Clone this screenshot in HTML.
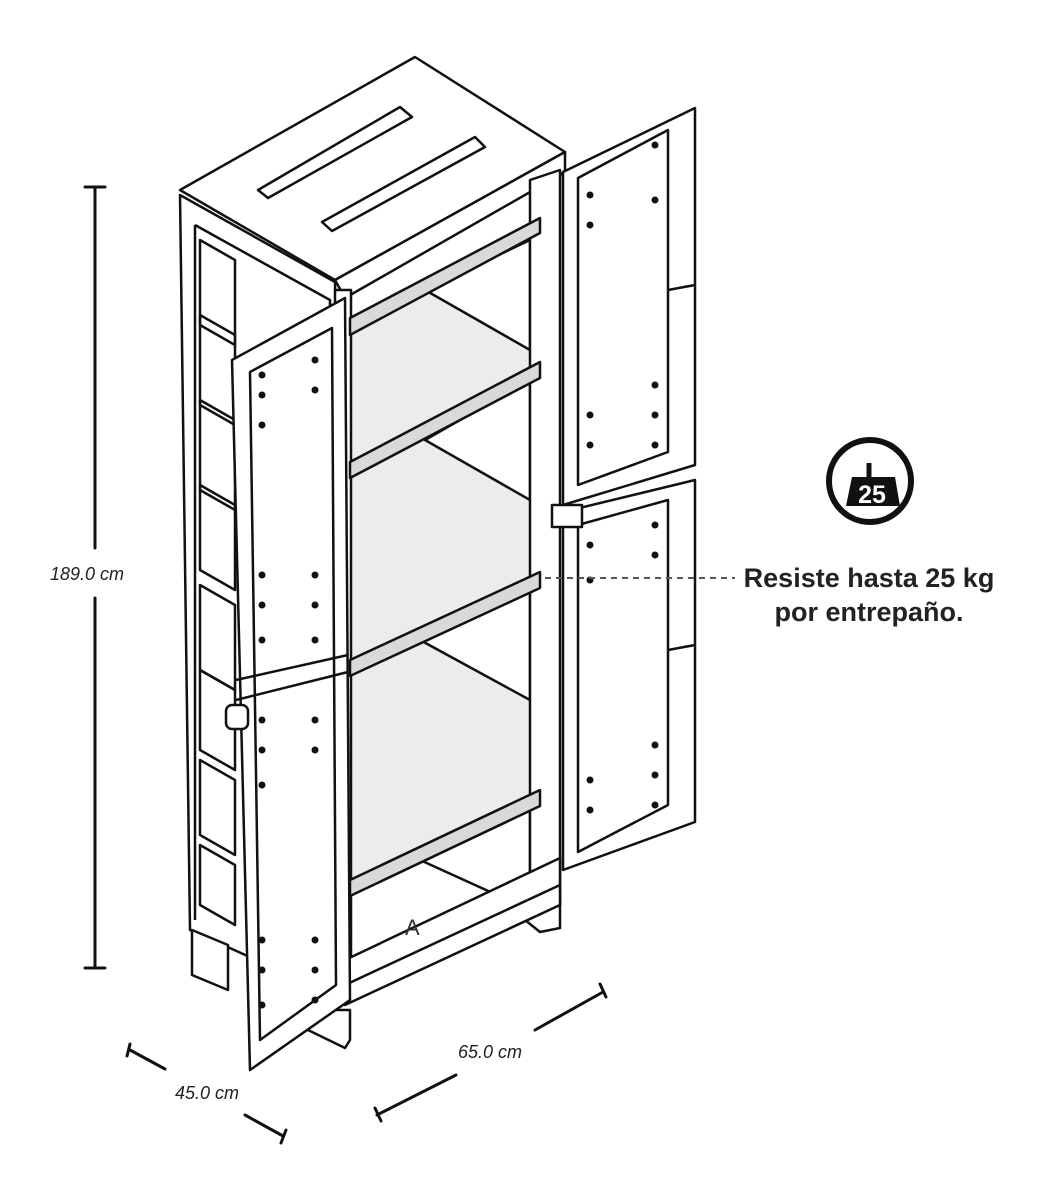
<!DOCTYPE html>
<html><head><meta charset="utf-8"><style>
html,body{margin:0;padding:0;background:#fff}
svg{display:block}
text{font-family:"Liberation Sans",sans-serif}
</style></head><body>
<svg width="1046" height="1200" viewBox="0 0 1046 1200" xmlns="http://www.w3.org/2000/svg">
<g stroke="#111" stroke-width="3" fill="none" stroke-linecap="round">
<line x1="95" y1="187" x2="95" y2="548"/>
<line x1="95" y1="598" x2="95" y2="968"/>
<line x1="85" y1="187" x2="105" y2="187"/>
<line x1="85" y1="968" x2="105" y2="968"/>
<line x1="130" y1="1050" x2="165" y2="1069"/>
<line x1="130" y1="1044" x2="127" y2="1056"/>
<line x1="245" y1="1115" x2="283" y2="1136"/>
<line x1="286" y1="1130" x2="281" y2="1143"/>
<line x1="377" y1="1115" x2="456" y2="1075"/>
<line x1="375" y1="1108" x2="381" y2="1121"/>
<line x1="535" y1="1030" x2="603" y2="992"/>
<line x1="600" y1="984" x2="606" y2="997"/>
</g>
<text x="87" y="580" font-size="18" font-style="italic" text-anchor="middle" fill="#222">189.0 cm</text>
<text x="207" y="1099" font-size="18" font-style="italic" text-anchor="middle" fill="#222">45.0 cm</text>
<text x="490" y="1058" font-size="18" font-style="italic" text-anchor="middle" fill="#222">65.0 cm</text>

<g stroke="#111" stroke-width="2.5" fill="#fff" stroke-linejoin="round">
<polygon points="350,335 540,235 540,362 350,462" fill="#ececec" stroke="none"/>
<polygon points="350,478 540,378 540,572 350,660" fill="#ececec" stroke="none"/>
<polygon points="350,676 540,588 540,790 350,880" fill="#ececec" stroke="none"/>
<polygon points="425,290 530,240 530,350" fill="#fff" stroke="#111"/>
<polygon points="425,440 530,380 530,500" fill="#fff" stroke="#111"/>
<polygon points="420,640 530,590 530,700" fill="#fff" stroke="#111"/>
<polygon points="420,860 530,800 530,910" fill="#fff" stroke="#111"/>
<polygon points="180,190 415,57 565,152 335,280"/>
<polygon points="335,280 565,152 565,172 345,298"/>
<polygon points="258,190 400,107 412,117 268,198"/>
<polygon points="322,222 475,137 485,147 332,231"/>
<polygon points="180,195 335,282 345,1000 190,930"/>
<polyline points="195,225 330,300 330,990" fill="none"/>
<polyline points="195,225 195,920" fill="none"/>
<g fill="none">
<path d="M200,240 L235,260 L235,345 L200,325 Z"/>
<path d="M200,315 L235,335 L235,425 L200,405 Z"/>
<path d="M200,400 L235,420 L235,510 L200,490 Z"/>
<path d="M200,485 L235,505 L235,590 L200,570 Z"/>
<path d="M200,585 L235,605 L235,690 L200,670 Z"/>
<path d="M200,670 L235,690 L235,770 L200,750 Z"/>
<path d="M200,760 L235,780 L235,855 L200,835 Z"/>
<path d="M200,845 L235,865 L235,925 L200,905 Z"/>
</g>
<polygon points="192,930 228,945 228,990 192,975"/>
<polygon points="308,1030 345,1048 350,1040 350,1010 310,1010"/>
<polygon points="525,900 560,890 560,928 540,932 525,920"/>
<rect x="335" y="290" width="16" height="712"/>
<polygon points="530,180 560,170 560,905 530,915"/>
<polygon points="345,960 560,858 560,905 345,1005"/>
<line x1="345" y1="985" x2="560" y2="885"/>
<text x="405" y="935" font-size="22" fill="#333" stroke="none">A</text>
<polygon points="350,318 540,218 540,233 350,335" fill="#d9d9d9"/>
<polygon points="350,462 540,362 540,378 350,478" fill="#d9d9d9"/>
<polygon points="350,660 540,572 540,588 350,676" fill="#d9d9d9"/>
<polygon points="350,880 540,790 540,806 350,896" fill="#d9d9d9"/>
<polygon points="232,360 345,298 350,1000 250,1070"/>
<polygon points="250,372 332,328 336,985 260,1040" fill="none"/>
<line x1="236" y1="680" x2="348" y2="655"/>
<line x1="236" y1="700" x2="348" y2="672"/>
<rect x="226" y="705" width="22" height="24" rx="6"/>
<polygon points="563,172 695,108 695,465 563,505"/>
<polygon points="563,512 695,480 695,822 563,870"/>
<polygon points="578,178 668,130 668,452 578,485" fill="none"/>
<polygon points="578,525 668,500 668,805 578,852" fill="none"/>
<line x1="668" y1="290" x2="695" y2="285"/>
<line x1="668" y1="650" x2="695" y2="645"/>
<rect x="552" y="505" width="30" height="22"/>
</g>
<g fill="#111">
<circle cx="262" cy="375" r="3.5"/><circle cx="315" cy="360" r="3.5"/><circle cx="315" cy="390" r="3.5"/>
<circle cx="262" cy="395" r="3.5"/><circle cx="262" cy="425" r="3.5"/>
<circle cx="262" cy="575" r="3.5"/><circle cx="262" cy="605" r="3.5"/><circle cx="262" cy="640" r="3.5"/>
<circle cx="315" cy="575" r="3.5"/><circle cx="315" cy="605" r="3.5"/><circle cx="315" cy="640" r="3.5"/>
<circle cx="262" cy="720" r="3.5"/><circle cx="262" cy="750" r="3.5"/><circle cx="262" cy="785" r="3.5"/>
<circle cx="315" cy="720" r="3.5"/><circle cx="315" cy="750" r="3.5"/>
<circle cx="262" cy="940" r="3.5"/><circle cx="262" cy="970" r="3.5"/><circle cx="262" cy="1005" r="3.5"/>
<circle cx="315" cy="940" r="3.5"/><circle cx="315" cy="970" r="3.5"/><circle cx="315" cy="1000" r="3.5"/>
<circle cx="590" cy="195" r="3.5"/><circle cx="590" cy="225" r="3.5"/><circle cx="655" cy="145" r="3.5"/><circle cx="655" cy="200" r="3.5"/>
<circle cx="590" cy="415" r="3.5"/><circle cx="590" cy="445" r="3.5"/><circle cx="655" cy="385" r="3.5"/><circle cx="655" cy="415" r="3.5"/><circle cx="655" cy="445" r="3.5"/>
<circle cx="590" cy="545" r="3.5"/><circle cx="590" cy="580" r="3.5"/><circle cx="655" cy="525" r="3.5"/><circle cx="655" cy="555" r="3.5"/>
<circle cx="590" cy="780" r="3.5"/><circle cx="590" cy="810" r="3.5"/><circle cx="655" cy="745" r="3.5"/><circle cx="655" cy="775" r="3.5"/><circle cx="655" cy="805" r="3.5"/>
</g>
<line x1="545" y1="578" x2="735" y2="578" stroke="#555" stroke-width="2" stroke-dasharray="6,5"/>
<circle cx="870" cy="481" r="41" fill="#fff" stroke="#111" stroke-width="6"/>
<line x1="869" y1="463" x2="869" y2="478" stroke="#111" stroke-width="5"/>
<polygon points="852,477 895,477 900,506 846,506" fill="#111"/>
<text x="872" y="503" font-size="25" font-weight="bold" fill="#fff" text-anchor="middle">25</text>
<text x="869" y="587" font-size="27" font-weight="bold" fill="#222" text-anchor="middle">Resiste hasta 25 kg</text>
<text x="869" y="621" font-size="27" font-weight="bold" fill="#222" text-anchor="middle">por entrepaño.</text>
</svg>
</body></html>
